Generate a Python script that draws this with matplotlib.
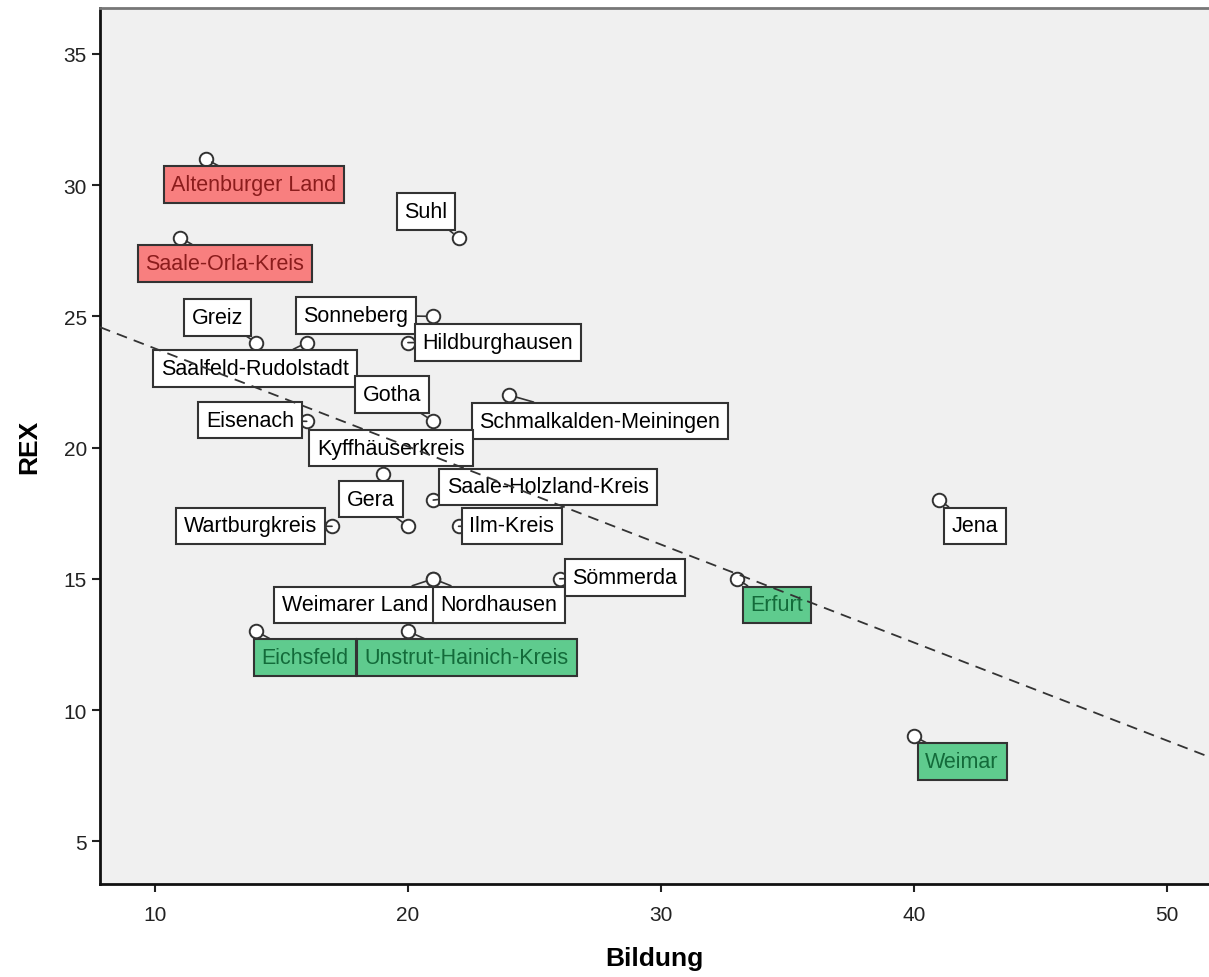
import numpy as np
import matplotlib
matplotlib.use('Agg')
import matplotlib.pyplot as plt

plt.rcParams['font.family'] = ['Liberation Sans', 'DejaVu Sans']

# Data: Thüringen districts, Bildung vs REX
names = ['Altenburger Land', 'Saale-Orla-Kreis', 'Suhl', 'Sonneberg', 'Greiz',
         'Saalfeld-Rudolstadt', 'Hildburghausen', 'Schmalkalden-Meiningen',
         'Eisenach', 'Gotha', 'Kyffhäuserkreis', 'Saale-Holzland-Kreis',
         'Wartburgkreis', 'Gera', 'Ilm-Kreis', 'Jena', 'Weimarer Land',
         'Nordhausen', 'Sömmerda', 'Erfurt', 'Eichsfeld',
         'Unstrut-Hainich-Kreis', 'Weimar']
bildung = [12, 11, 22, 21, 14, 16, 20, 24, 16, 21, 19, 21, 17, 20, 22, 41,
           21, 21, 26, 33, 14, 20, 40]
rex = [31, 28, 28, 25, 24, 24, 24, 22, 21, 21, 19, 18, 17, 17, 17, 18,
       15, 15, 15, 15, 13, 13, 9]
group = ['high', 'high', '', '', '', '', '', '', '', '', '', '', '', '', '',
         '', '', '', '', 'low', 'low', 'low', 'low']

# label placement (data coords of box centres)
label_x = [13.91, 12.77, 20.71, 17.94, 12.49, 13.95, 23.56, 27.59, 13.75,
           19.37, 19.33, 25.53, 13.79, 18.54, 24.11, 42.41, 17.91, 23.60,
           28.58, 34.58, 15.93, 22.33, 41.90]
label_y = [30.02, 27.02, 28.99, 25.04, 24.96, 23.02, 24.01, 21.01, 21.05,
           22.03, 19.98, 18.50, 17.02, 18.04, 17.02, 17.02, 14.01, 14.01,
           15.04, 14.01, 12.0, 12.0, 8.04]

styles = {
    'high': dict(face='#f87f7f', text='#8b1c1c'),
    'low': dict(face='#5fcb8e', text='#136b3a'),
    '': dict(face='white', text='black'),
}

fig = plt.figure(figsize=(12.09, 9.78), dpi=100)
ax = fig.add_axes([100 / 1209, 93 / 978, 1109 / 1209, 876 / 978])
ax.set_facecolor('#f0f0f0')

xlim = (7.83, 51.66)
ax.set_xlim(xlim)
ax.set_ylim(3.37, 36.75)

ax.scatter(bildung, rex, s=95, facecolor='white', edgecolor='#333333',
           linewidth=1.4, zorder=3)

for i, name in enumerate(names):
    st = styles[group[i]]
    ax.annotate(name, xy=(bildung[i], rex[i]), xytext=(label_x[i], label_y[i]),
                ha='center', va='center', fontsize=15.5, color=st['text'],
                bbox=dict(boxstyle='square,pad=0.36', facecolor=st['face'],
                          edgecolor='#333333', linewidth=1.5),
                arrowprops=dict(arrowstyle='-', color='#333333', lw=1.2,
                                shrinkA=0, shrinkB=5),
                zorder=4)

# linear fit
slope, intercept = np.polyfit(bildung, rex, 1)
xs = np.array(xlim)
ax.plot(xs, intercept + slope * xs, linestyle=(0, (6, 4)), color='#333333',
        linewidth=1.3, zorder=5)

ax.set_xticks([10, 20, 30, 40, 50])
ax.set_yticks([5, 10, 15, 20, 25, 30, 35])
ax.tick_params(direction='out', length=6, width=1.5, labelsize=15,
               colors='#222222')
ax.tick_params(axis='x', pad=9)
for side in ['left', 'bottom']:
    ax.spines[side].set_linewidth(2)
    ax.spines[side].set_color('#111111')
ax.spines['top'].set_color('#777777')
ax.spines['top'].set_linewidth(2)
ax.spines['right'].set_visible(False)

ax.set_xlabel('Bildung', fontsize=19, fontweight='bold', labelpad=16)
ax.set_ylabel('REX', fontsize=19, fontweight='bold', labelpad=16)

fig.savefig('out.png', dpi=100)
